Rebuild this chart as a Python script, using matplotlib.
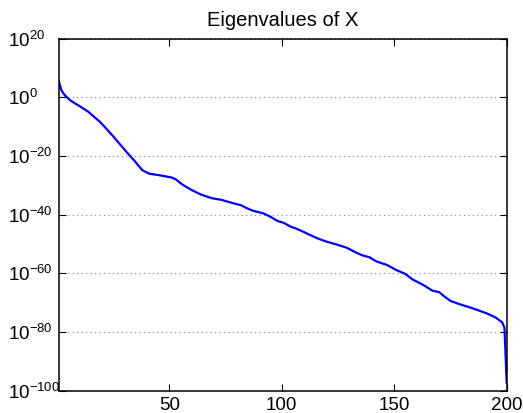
import matplotlib
matplotlib.use("Agg")
import matplotlib.pyplot as plt
import numpy as np

# log10 of eigenvalues
idx = [1, 2, 3, 4, 6, 8, 10, 12, 14, 17, 19, 21, 25, 28, 31, 35, 36, 38, 41,
       46, 51, 53, 56, 60, 64, 69, 73, 78, 82, 84, 87, 92, 95, 98, 101, 104,
       106, 109, 112, 116, 120, 125, 129, 133, 136, 139, 142, 147, 151, 155,
       158, 163, 167, 170, 172, 175, 179, 184, 187, 191, 195, 198, 199, 200]
log_eig = [5.3, 2.6, 1.3, 0.4, -1.0, -2.0, -2.9, -3.9, -4.9, -6.9, -8.2, -9.8,
           -13.2, -15.9, -18.6, -22.0, -23.0, -24.8, -26.0, -26.6, -27.3, -28.0,
           -29.8, -31.6, -33.1, -34.4, -34.9, -36.0, -36.8, -37.6, -38.6, -39.6,
           -40.7, -42.1, -42.8, -44.1, -44.6, -45.6, -46.7, -48.1, -49.2, -50.3,
           -51.3, -52.9, -53.9, -54.5, -55.9, -57.2, -58.9, -60.2, -62.0, -64.0,
           -65.9, -66.4, -67.7, -69.4, -70.5, -71.7, -72.5, -73.6, -75.0, -76.7,
           -78.5, -97.3]

ytick_exp = [20, 0, -20, -40, -60, -80, -100]
xticks = [50, 100, 150, 200]

plt.rcParams['font.family'] = ['Liberation Sans', 'DejaVu Sans']
plt.rcParams['mathtext.fontset'] = 'custom'
plt.rcParams['mathtext.rm'] = 'Liberation Sans'
plt.rcParams['mathtext.it'] = 'Liberation Sans'
plt.rcParams['mathtext.default'] = 'regular'

fig = plt.figure(figsize=(5.23, 4.13), dpi=100)
ax = fig.add_axes([59 / 523, 22.3 / 413, 447.7 / 523, 352 / 413])

eig = 10.0 ** np.array(log_eig)
ax.semilogy(idx, eig, color=(0, 0, 1), linewidth=1.6)

ax.set_xlim(1, 200)
ax.set_ylim(1e-100, 1e20)
ax.set_xticks(xticks)
ax.set_yticks([10.0 ** e for e in ytick_exp])
ax.set_yticklabels([r'$10^{%d}$' % e for e in ytick_exp])
ax.minorticks_off()

ax.tick_params(direction='in', top=True, right=True, length=5, width=0.8,
               labelsize=13.5)
ax.tick_params(axis='x', pad=4.5)
ax.tick_params(axis='y', pad=36.5)
for lab in ax.get_yticklabels():
    lab.set_horizontalalignment('left')

ax.yaxis.grid(True, linestyle=(0, (1, 3)), color='#808080', linewidth=0.8)
ax.xaxis.grid(False)
for s in ax.spines.values():
    s.set_linewidth(1.1)

ax.set_title('Eigenvalues of X', fontsize=14.5, pad=9)

fig.savefig('out.png', dpi=100)
